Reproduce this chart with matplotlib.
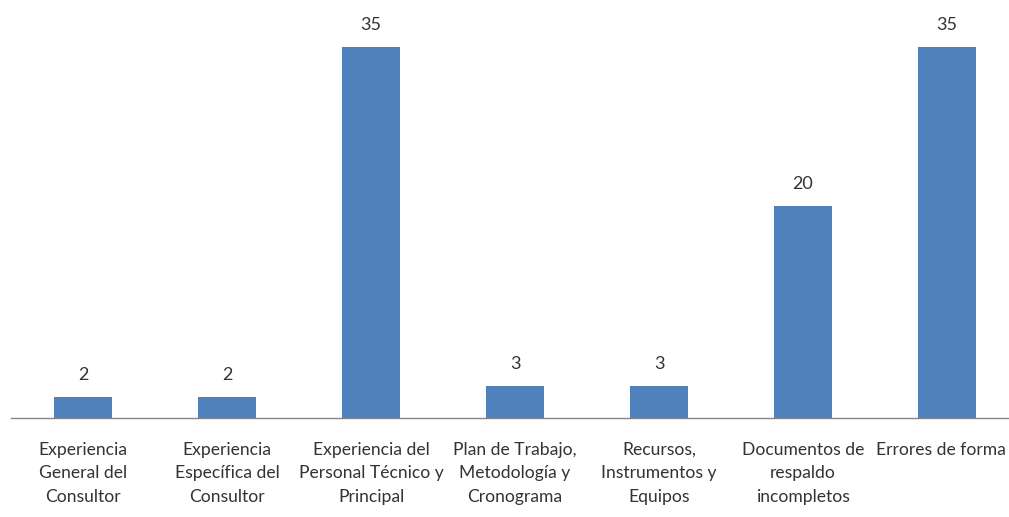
import matplotlib
matplotlib.use("Agg")
import matplotlib.pyplot as plt
import matplotlib.transforms as mtransforms

# Datos del gráfico
categorias = [
    "Experiencia\nGeneral del\nConsultor",
    "Experiencia\nEspecífica del\nConsultor",
    "Experiencia del\nPersonal Técnico y\nPrincipal",
    "Plan de Trabajo,\nMetodología y\nCronograma",
    "Recursos,\nInstrumentos y\nEquipos",
    "Documentos de\nrespaldo\nincompletos",
    "Errores de forma",
]
valores = [2, 2, 35, 3, 3, 20, 35]

plt.rcParams["font.family"] = ["Lato", "DejaVu Sans"]

W, H = 1009, 517
fig = plt.figure(figsize=(W / 100, H / 100), dpi=100)
# ejes en pixeles: izquierda 11, ancho 1008, base en y=418
ax = fig.add_axes([11 / W, (H - 418) / H, 1008 / W, 424 / H])

x = range(len(valores))
barras = ax.bar(x, valores, width=0.4, color="#4F81BD")
ax.set_xlim(-0.5, len(valores) - 0.5)
ax.set_ylim(0, 40)

for b, v in zip(barras, valores):
    ax.annotate(str(v), (b.get_x() + b.get_width() / 2, v),
                xytext=(0, 10), textcoords="offset points",
                ha="center", va="bottom", fontsize=13, color="#333333")

ax.set_xticks(list(x))
etiquetas = ax.set_xticklabels(categorias, fontsize=12.6, color="#333333", linespacing=1.6)
ax.tick_params(axis="x", length=0, pad=17)
# la ultima etiqueta toca el borde: correrla un poco a la izquierda
ultima = etiquetas[-1]
ultima.set_transform(ultima.get_transform() +
                     mtransforms.ScaledTranslation(-6 / 100, 0, fig.dpi_scale_trans))
ax.set_yticks([])
for s in ["top", "left", "right"]:
    ax.spines[s].set_visible(False)
ax.spines["bottom"].set_color("#868686")
ax.spines["bottom"].set_linewidth(1)

fig.savefig("out.png", dpi=100)
